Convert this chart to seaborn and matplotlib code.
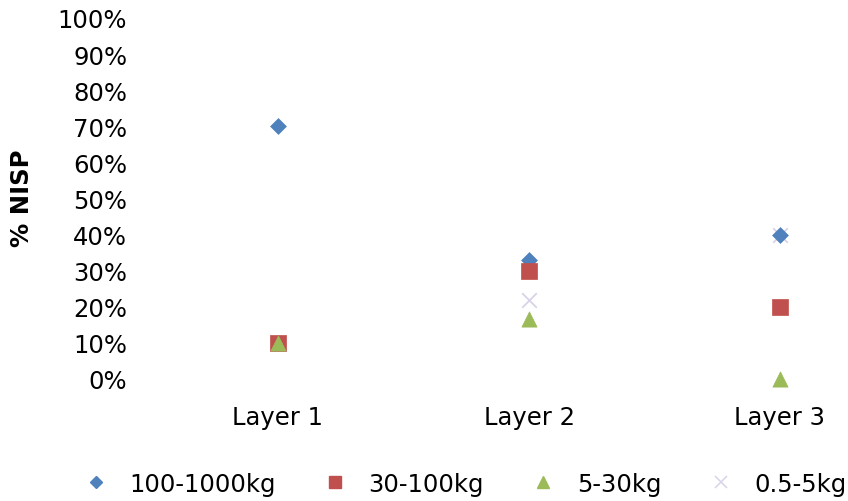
import matplotlib
matplotlib.use("Agg")
import matplotlib.pyplot as plt
import seaborn as sns
import pandas as pd
from matplotlib.ticker import PercentFormatter
from matplotlib.lines import Line2D

layers = ["Layer 1", "Layer 2", "Layer 3"]
series_names = ["100-1000kg", "30-100kg", "5-30kg", "0.5-5kg"]
vals_100_1000 = [0.70, 0.33, 0.40]
vals_30_100 = [0.10, 0.30, 0.20]
vals_5_30 = [0.10, 0.165, 0.00]
vals_05_5 = [0.10, 0.22, 0.40]
y_ticks = [0, 0.1, 0.2, 0.3, 0.4, 0.5, 0.6, 0.7, 0.8, 0.9, 1.0]

colors = ["#4F81BD", "#C0504D", "#9BBB59", "#D8D3E8"]
markers = ["D", "s", "^", "x"]
sizes = [65, 130, 120, 110]
zorders = [4, 5, 6, 3]

sns.set_theme(style="white")
plt.rcParams['font.family'] = ['DejaVu Sans']
plt.rcParams['text.color'] = 'black'

fig = plt.figure(figsize=(8.48, 5.02), dpi=100)
ax = fig.add_axes([152.5 / 848, (502 - 380) / 502, 1 - 152.5 / 848, 361 / 502])

all_vals = [vals_100_1000, vals_30_100, vals_5_30, vals_05_5]
handles = []
for name, vals, c, m, s, z in zip(series_names, all_vals, colors, markers, sizes, zorders):
    df = pd.DataFrame({"layer": list(range(len(layers))), "val": vals})
    if m == "x":
        sns.scatterplot(data=df, x="layer", y="val", ax=ax, marker=m, color=c,
                        s=s, linewidth=1.3, clip_on=False, zorder=z)
        handles.append(Line2D([], [], linestyle="none", marker=m, color=c,
                              markersize=8.5, markeredgewidth=1.1, label=name))
    else:
        sns.scatterplot(data=df, x="layer", y="val", ax=ax, marker=m, color=c,
                        s=s, edgecolor=c, linewidth=0.5, clip_on=False, zorder=z)
        handles.append(Line2D([], [], linestyle="none", marker=m, color=c,
                              markersize=8 if m != "D" else 6.5, label=name))

ax.set_xlim(-0.5, 2 + (848 - 780) / 251)
ax.set_ylim(0, 1.0)
ax.set_xticks(range(len(layers)))
ax.set_xticklabels(layers)
ax.set_yticks(y_ticks)
ax.yaxis.set_major_formatter(PercentFormatter(1.0, decimals=0))
ax.tick_params(axis="x", length=0, pad=19.0, labelsize=17.5, colors="#000000")
ax.tick_params(axis="y", length=0, pad=18.2, labelsize=17.5, colors="#000000")
for sp in ax.spines.values():
    sp.set_visible(False)
ax.set_xlabel("")
ax.set_ylabel("")
ax.grid(False)

fig.text(22 / 848, 1 - 198 / 502, "% NISP", rotation=90, fontsize=17.5,
         fontweight="bold", ha="center", va="center")

fig.legend(handles=handles, loc="center", bbox_to_anchor=(465 / 848, 1 - 485 / 502),
           ncol=4, frameon=False, fontsize=17.5, handletextpad=0.87,
           columnspacing=1.95, handlelength=1.0, borderpad=0, borderaxespad=0)

fig.savefig("out.png", dpi=100)
